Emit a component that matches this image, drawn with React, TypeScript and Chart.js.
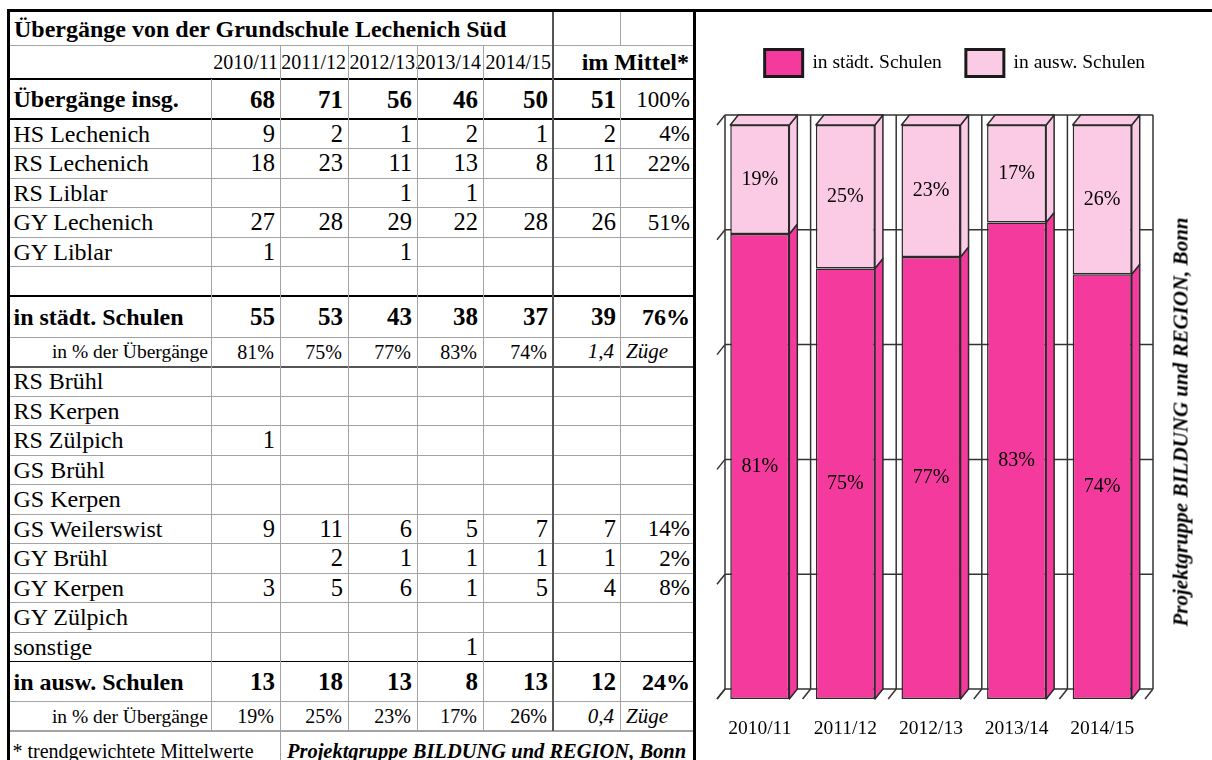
import React, { useEffect, useRef } from 'react';
import { Chart, registerables } from 'chart.js';

Chart.register(...registerables);

const FONT = "'Liberation Serif', 'Times New Roman', serif";

// ---------- data ----------
const years = ['2010/11', '2011/12', '2012/13', '2013/14', '2014/15'];

const totalValues = [68, 71, 56, 46, 50];
const totalMean = 51;
const totalMeanPct = '100%';

const cityLabels = ['HS Lechenich', 'RS Lechenich', 'RS Liblar', 'GY Lechenich', 'GY Liblar', ''];
const cityRows = [
  [9, 2, 1, 2, 1],
  [18, 23, 11, 13, 8],
  [null, null, 1, 1, null],
  [27, 28, 29, 22, 28],
  [1, null, 1, null, null],
  [null, null, null, null, null],
];
const cityMeans = [2, 11, null, 26, null, null];
const cityMeanPcts = ['4%', '22%', '', '51%', '', ''];
const cityTotals = [55, 53, 43, 38, 37];
const cityTotalMean = 39;
const cityTotalPct = '76%';
const cityShare = [81, 75, 77, 83, 74];
const cityTrains = '1,4';

const outLabels = ['RS Brühl', 'RS Kerpen', 'RS Zülpich', 'GS Brühl', 'GS Kerpen', 'GS Weilerswist', 'GY Brühl', 'GY Kerpen', 'GY Zülpich', 'sonstige'];
const outRows = [
  [null, null, null, null, null],
  [null, null, null, null, null],
  [1, null, null, null, null],
  [null, null, null, null, null],
  [null, null, null, null, null],
  [9, 11, 6, 5, 7],
  [null, 2, 1, 1, 1],
  [3, 5, 6, 1, 5],
  [null, null, null, null, null],
  [null, null, null, 1, null],
];
const outMeans = [null, null, null, null, null, 7, 1, 4, null, null];
const outMeanPcts = ['', '', '', '', '', '14%', '2%', '8%', '', ''];
const outTotals = [13, 18, 13, 8, 13];
const outTotalMean = 12;
const outTotalPct = '24%';
const outShare = [19, 25, 23, 17, 26];
const outTrains = '0,4';

const legendCity = 'in städt. Schulen';
const legendOut = 'in ausw. Schulen';
const sourceText = 'Projektgruppe BILDUNG und REGION, Bonn';

// ---------- layout ----------
const X = [10, 211, 280, 348, 417, 483, 553, 620, 693];
const ROW_H = [33, 34, 40, 29.5, 29.5, 29.5, 29.5, 29.5, 29.5, 41, 29.5,
  29.5, 29.5, 29.5, 29.5, 29.5, 29.5, 29.5, 29.5, 29.5, 29.5, 40, 29.5, 40];
const Y: number[] = [12];
ROW_H.forEach((h, i) => Y.push(Y[i] + h));

const GRAY = '#a3a3a3';
const DARK = '#555';
const BLACK = '#000';
const PINK = '#f53a9e';
const LIGHT = '#fbcbe6';
const EDGE = '#2a2a2a';

function Txt(props: any) {
  const { x0, x1, r, children, align = 'right', pad = 4, size = 21, bold = false, italic = false } = props;
  return (
    <div
      style={{
        position: 'absolute', left: x0, top: Y[r], width: x1 - x0, height: Y[r + 1] - Y[r],
        display: 'flex', alignItems: 'center',
        justifyContent: align === 'right' ? 'flex-end' : align === 'center' ? 'center' : 'flex-start',
        paddingRight: align === 'right' ? pad : 0, paddingLeft: align === 'left' ? pad : 0,
        boxSizing: 'border-box', fontSize: size, fontWeight: bold ? 'bold' : 'normal',
        fontStyle: italic ? 'italic' : 'normal', whiteSpace: 'nowrap', lineHeight: 1, color: '#000',
      }}
    >
      {children}
    </div>
  );
}

function Line(props: any) {
  const { x0, x1, y0, y1, c } = props;
  return <div style={{ position: 'absolute', left: x0, top: y0, width: x1 - x0, height: y1 - y0, background: c }} />;
}

function Table() {
  const els: any[] = [];
  let k = 0;
  const t = (p: any, ch: any) => els.push(<Txt key={'t' + k++} {...p}>{ch}</Txt>);

  // title
  t({ x0: X[0], x1: X[6], r: 0, align: 'left', pad: 4, size: 24, bold: true }, 'Übergänge von der Grundschule Lechenich Süd');
  // years
  years.forEach((yv, i) => t({ x0: i === 0 ? X[0] : X[i + 1], x1: X[i + 2], r: 1, pad: 2, size: 20 }, yv));
  t({ x0: X[6], x1: X[8], r: 1, pad: 4, size: 24, bold: true }, 'im Mittel*');

  const dataRow = (r: number, label: string, vals: any[], mean: any, pct: string, bold: boolean, pctBold: boolean) => {
    const size = 24;
    const nsize = bold ? 25 : 24.5;
    t({ x0: X[0], x1: X[1], r, align: 'left', pad: 3.5, size, bold }, label);
    vals.forEach((v, i) => t({ x0: X[i + 1], x1: X[i + 2], r, pad: 5, size: nsize, bold }, v == null ? '' : String(v)));
    t({ x0: X[6], x1: X[7], r, pad: 4, size: nsize, bold }, mean == null ? '' : String(mean));
    t({ x0: X[7], x1: X[8], r, pad: 3, size: pctBold ? 24 : 23, bold: pctBold }, pct);
  };
  const shareRow = (r: number, vals: number[], trains: string) => {
    t({ x0: X[0], x1: X[1], r, pad: 3, size: 19.5 }, 'in % der Übergänge');
    vals.forEach((v, i) => t({ x0: X[i + 1], x1: X[i + 2], r, pad: 6, size: 20 }, v + '%'));
    t({ x0: X[6], x1: X[7], r, pad: 6, size: 21, italic: true }, trains);
    t({ x0: X[7], x1: X[8], r, align: 'left', pad: 6, size: 21, italic: true }, 'Züge');
  };

  dataRow(2, 'Übergänge insg.', totalValues, totalMean, totalMeanPct, true, false);
  cityLabels.forEach((l, i) => dataRow(3 + i, l, cityRows[i], cityMeans[i], cityMeanPcts[i], false, false));
  dataRow(9, 'in städt. Schulen', cityTotals, cityTotalMean, cityTotalPct, true, true);
  shareRow(10, cityShare, cityTrains);
  outLabels.forEach((l, i) => dataRow(11 + i, l, outRows[i], outMeans[i], outMeanPcts[i], false, false));
  dataRow(21, 'in ausw. Schulen', outTotals, outTotalMean, outTotalPct, true, true);
  shareRow(22, outShare, outTrains);
  t({ x0: X[0], x1: X[2], r: 23, align: 'left', pad: 2.5, size: 20 }, '* trendgewichtete Mittelwerte');
  t({ x0: X[2], x1: X[8], r: 23, align: 'center', size: 20.5, bold: true, italic: true }, sourceText);

  // horizontal lines
  const hStyle: Record<number, [string, number]> = {
    1: [GRAY, 1], 2: [BLACK, 1.5], 3: [BLACK, 1.5], 9: [BLACK, 1.5], 10: [GRAY, 1], 11: [DARK, 2],
    21: [BLACK, 1.5], 22: [GRAY, 1], 23: [GRAY, 1.5],
  };
  for (let r = 1; r <= 23; r++) {
    const [c, w] = hStyle[r] || [GRAY, 1];
    els.push(<Line key={'h' + r} x0={X[0]} x1={X[8]} y0={Y[r] - w / 2} y1={Y[r] + w / 2} c={c} />);
  }
  // vertical lines
  const v = (x: number, y0: number, y1: number, c: string, w: number) =>
    els.push(<Line key={'v' + k++} x0={x - w / 2} x1={x + w / 2} y0={y0} y1={y1} c={c} />);
  v(X[1], Y[2], Y[23], GRAY, 1);
  v(X[2], Y[1], 760, GRAY, 1);
  v(X[3], Y[1], Y[23], GRAY, 1);
  v(X[4], Y[1], Y[23], GRAY, 1);
  v(X[5], Y[1], Y[23], GRAY, 1);
  v(X[6], Y[0], Y[23], DARK, 2);
  v(X[7], Y[0], Y[1], GRAY, 1);
  v(X[7], Y[2], Y[23], GRAY, 1);
  return <>{els}</>;
}

// ---------- chart ----------
const DX = 8;
const DY = 10;

const threeD = {
  id: 'threeD',
  beforeDatasetsDraw(chart: any) {
    const { ctx, chartArea: a, scales } = chart;
    const xs = scales.x;
    const ys = scales.y;
    const line = (x0: number, y0: number, x1: number, y1: number) => {
      ctx.beginPath(); ctx.moveTo(x0, y0); ctx.lineTo(x1, y1); ctx.stroke();
    };
    ctx.save();
    ctx.strokeStyle = '#333';
    ctx.lineWidth = 1.5;
    const top = ys.getPixelForValue(ys.max);
    const bot = ys.getPixelForValue(ys.min);
    ys.ticks.forEach((tk: any) => {
      const py = ys.getPixelForValue(tk.value);
      line(a.left + DX, py - DY, a.right + DX, py - DY);
      line(a.left, py, a.left + DX, py - DY);
    });
    line(a.left + DX, top - DY, a.left + DX, bot - DY);
    line(a.right + DX, top - DY, a.right + DX, bot - DY);
    const n = chart.data.labels.length;
    const bounds: number[] = [a.left];
    for (let i = 0; i < n - 1; i++) bounds.push((xs.getPixelForValue(i) + xs.getPixelForValue(i + 1)) / 2);
    bounds.push(a.right);
    bounds.forEach((b, i) => {
      if (i > 0 && i < bounds.length - 1) line(b + DX, top - DY, b + DX, bot - DY);
      line(b, bot, b + DX, bot - DY);
    });
    ctx.restore();
  },
  afterDatasetsDraw(chart: any) {
    const { ctx } = chart;
    ctx.save();
    ctx.strokeStyle = EDGE;
    ctx.lineWidth = 1.5;
    ctx.lineJoin = 'round';
    const nSets = chart.data.datasets.length;
    chart.data.datasets.forEach((ds: any, di: number) => {
      const meta = chart.getDatasetMeta(di);
      meta.data.forEach((el: any) => {
        const { x, y, base, width } = el.getProps(['x', 'y', 'base', 'width'], true);
        const l = x - width / 2;
        const r = x + width / 2;
        ctx.fillStyle = ds.backgroundColor;
        // side face
        ctx.beginPath();
        ctx.moveTo(r, y); ctx.lineTo(r + DX, y - DY); ctx.lineTo(r + DX, base - DY); ctx.lineTo(r, base);
        ctx.closePath(); ctx.fill(); ctx.stroke();
        if (di === nSets - 1) {
          ctx.beginPath();
          ctx.moveTo(l, y); ctx.lineTo(l + DX, y - DY); ctx.lineTo(r + DX, y - DY); ctx.lineTo(r, y);
          ctx.closePath(); ctx.fill(); ctx.stroke();
        }
      });
    });
    ctx.fillStyle = '#000';
    ctx.font = `20px ${FONT}`;
    ctx.textAlign = 'center';
    ctx.textBaseline = 'middle';
    chart.data.datasets.forEach((ds: any, di: number) => {
      const meta = chart.getDatasetMeta(di);
      meta.data.forEach((el: any, i: number) => {
        const { x, y, base } = el.getProps(['x', 'y', 'base'], true);
        ctx.fillText(ds.data[i] + '%', x, (y + base) / 2);
      });
    });
    ctx.restore();
  },
};

function BarChart() {
  const ref = useRef<HTMLCanvasElement>(null);
  useEffect(() => {
    if (!ref.current) return;
    const chart = new Chart(ref.current, {
      type: 'bar',
      data: {
        labels: years,
        datasets: [
          { label: legendCity, data: cityShare, backgroundColor: PINK, borderColor: EDGE, borderWidth: 1.5, borderSkipped: false },
          { label: legendOut, data: outShare, backgroundColor: LIGHT, borderColor: EDGE, borderWidth: 1.5, borderSkipped: false },
        ],
      },
      options: {
        responsive: false,
        animation: false,
        devicePixelRatio: 1,
        events: [],
        datasets: { bar: { barPercentage: 0.69, categoryPercentage: 1 } },
        layout: { padding: { left: 21, right: 19.3, top: 13.5, bottom: 0 } },
        plugins: {
          tooltip: { enabled: false },
          legend: {
            position: 'top',
            labels: {
              boxWidth: 38,
              boxHeight: 27,
              padding: 24,
              color: '#000',
              font: { size: 19.5, family: FONT },
              generateLabels: (c: any) =>
                (Chart.defaults.plugins.legend.labels.generateLabels as any)(c).map((it: any) => ({
                  ...it, lineWidth: 3, strokeStyle: '#1a1a1a',
                })),
            },
          },
        },
        scales: {
          x: {
            stacked: true,
            grid: { display: false, drawTicks: false },
            border: { display: false },
            ticks: { color: '#000', font: { size: 19.5, family: FONT }, padding: 18.5, maxRotation: 0 },
            afterFit: (s: any) => { s.height = 61; },
          },
          xTop: {
            type: 'category',
            position: 'top',
            grid: { display: false, drawTicks: false },
            border: { display: false },
            ticks: { display: false },
            afterFit: (s: any) => { s.height = 38.5; },
          },
          y: {
            stacked: true,
            position: 'right',
            min: 0,
            max: 100,
            grid: { display: false, drawTicks: false },
            border: { display: false },
            ticks: { display: false, stepSize: 20 },
            afterFit: (s: any) => { s.width = 47.7; },
          },
        },
      },
      plugins: [threeD],
    } as any);
    return () => chart.destroy();
  }, []);
  return <canvas ref={ref} width={516} height={748} style={{ position: 'absolute', left: 696, top: 12, display: 'block' }} />;
}

export default function App() {
  return (
    <div style={{ position: 'fixed', left: 0, top: 0, width: 1212, height: 760, background: '#fff', overflow: 'hidden', fontFamily: FONT }}>
      <Table />
      <BarChart />
      {/* frame */}
      <Line x0={7} x1={10} y0={9} y1={760} c={BLACK} />
      <Line x0={7} x1={1212} y0={9} y1={12} c={BLACK} />
      <Line x0={693} x1={696} y0={9} y1={760} c={BLACK} />
      <div
        style={{
          position: 'absolute', left: 1181, top: 422, transform: 'translate(-50%, -50%) rotate(-90deg)',
          whiteSpace: 'nowrap', fontSize: 21, fontWeight: 'bold', fontStyle: 'italic', lineHeight: 1, color: '#000',
        }}
      >
        {sourceText}
      </div>
    </div>
  );
}
